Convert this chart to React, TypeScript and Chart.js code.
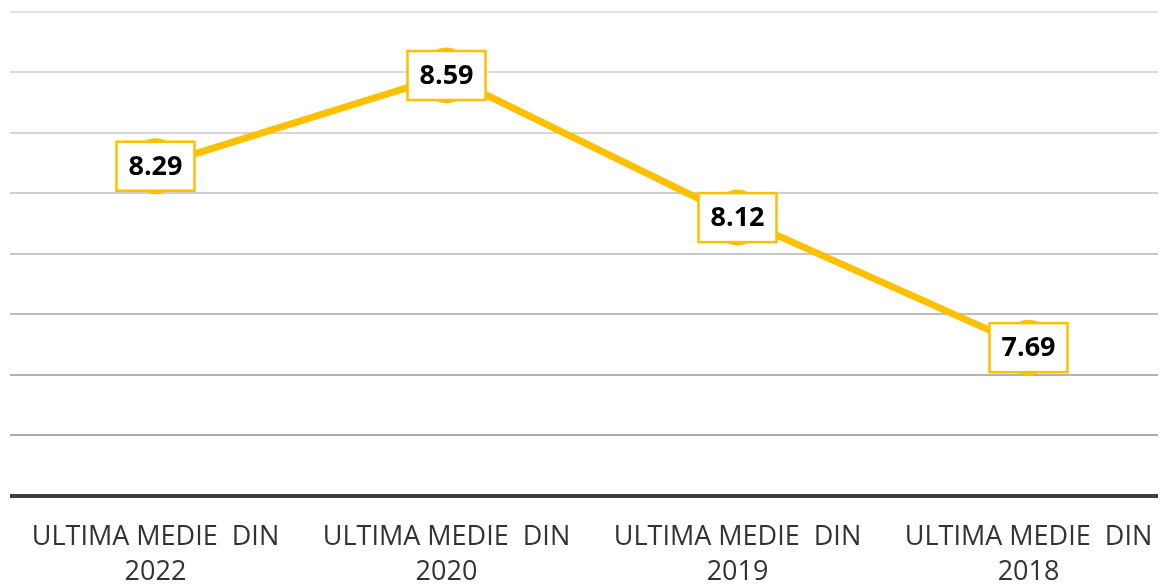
import React, { useEffect, useRef } from "react";
import { Chart, registerables } from "chart.js";

Chart.register(...registerables);

const categories: string[][] = [
  ["ULTIMA MEDIE  DIN", "2022"],
  ["ULTIMA MEDIE  DIN", "2020"],
  ["ULTIMA MEDIE  DIN", "2019"],
  ["ULTIMA MEDIE  DIN", "2018"],
];
const values: number[] = [8.29, 8.59, 8.12, 7.69];
const yMin = 7.2;
const yMax = 8.8;
const yStep = 0.2;

const GOLD = "#FFC000";
const gridColors = ["#404040", "#a9a9a9", "#b3b3b3", "#bdbdbd", "#c6c6c6", "#cfcfcf", "#d6d6d6", "#dcdcdc", "#e2e2e2"];

const labelPlugin = {
  id: "boxLabels",
  afterDatasetsDraw(chart: any) {
    const ctx = chart.ctx;
    const meta = chart.getDatasetMeta(0);
    const ds = chart.data.datasets[0];
    ctx.save();
    meta.data.forEach((pt: any, i: number) => {
      const x = pt.x, y = pt.y;
      ctx.fillStyle = GOLD;
      ctx.beginPath();
      ctx.ellipse(x, y, 25, 28, 0, 0, Math.PI * 2);
      ctx.fill();
      const w = 78, h = 49;
      ctx.fillStyle = "#ffffff";
      ctx.fillRect(x - w / 2, y - h / 2, w, h);
      ctx.strokeStyle = GOLD;
      ctx.lineWidth = 2.5;
      ctx.strokeRect(x - w / 2, y - h / 2, w, h);
      ctx.fillStyle = "#000000";
      ctx.font = "bold 27px 'Open Sans'";
      ctx.textAlign = "center";
      ctx.textBaseline = "middle";
      ctx.fillText(ds.data[i].toFixed(2), x, y + 1);
    });
    ctx.restore();
  },
};

export default function App() {
  const ref = useRef<HTMLCanvasElement | null>(null);
  useEffect(() => {
    if (!ref.current) return;
    const chart = new Chart(ref.current, {
      type: "line",
      data: {
        labels: categories,
        datasets: [
          {
            data: values,
            borderColor: GOLD,
            backgroundColor: GOLD,
            borderWidth: 7,
            pointRadius: 0,
            pointHoverRadius: 0,
            tension: 0,
            clip: false,
          },
        ],
      },
      options: {
        animation: false,
        responsive: false,
        maintainAspectRatio: false,
        layout: { padding: { top: 4, bottom: 18, left: 0, right: 0 } },
        plugins: { legend: { display: false }, tooltip: { enabled: false } },
        scales: {
          x: {
            offset: true,
            grid: { display: false, drawTicks: false },
            border: { display: false },
            ticks: {
              color: "#333333",
              padding: 24,
              font: { family: "'Open Sans'", size: 27, lineHeight: 1.3 },
              maxRotation: 0,
              autoSkip: false,
            },
          },
          y: {
            min: yMin,
            max: yMax,
            ticks: { display: false, stepSize: yStep },
            border: { display: false },
            grid: {
              drawTicks: false,
              color: (c: any) => gridColors[c.index] ?? "#d9d9d9",
              lineWidth: (c: any) => (c.index === 0 ? 4 : 2),
            },
          },
        },
      },
      plugins: [labelPlugin],
    });
    return () => chart.destroy();
  }, []);
  return (
    <div style={{ width: 1158, height: 578, overflow: "hidden", position: "relative" }}>
      <canvas ref={ref} width={1168} height={624} style={{ display: "block", width: 1168, height: 624 }} />
    </div>
  );
}
